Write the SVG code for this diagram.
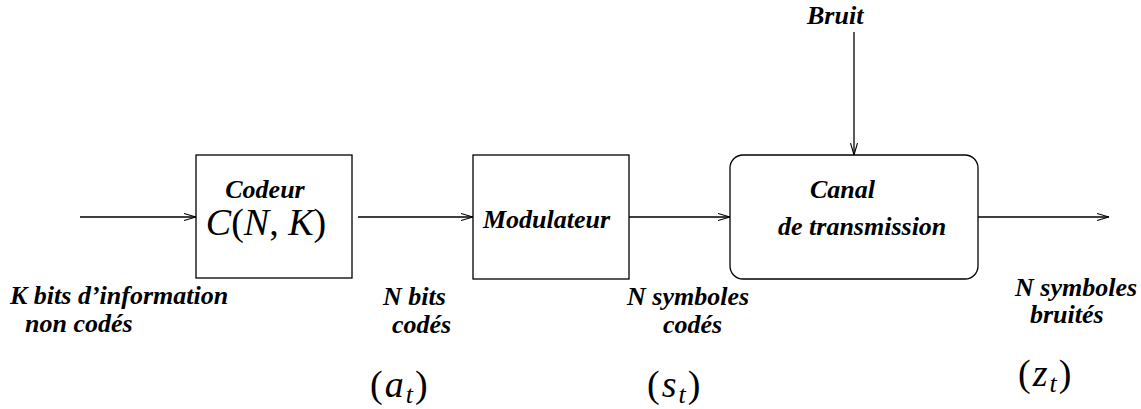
<svg xmlns="http://www.w3.org/2000/svg" width="1141" height="409" viewBox="0 0 1141 409">
  <style>
    .box { fill: none; stroke: #000; stroke-width: 1.3; }
    .wire { fill: none; stroke: #000; stroke-width: 1.3; marker-end: url(#open); }
    .lbl { font-family: "Liberation Serif", "Times New Roman", serif; font-style: italic; font-weight: bold; font-size: 26px; fill: #000; }
    .math { font-family: "Liberation Serif", "Times New Roman", serif; font-size: 38px; fill: #000; }
    .math .v { font-style: italic; }
    .math .sub { font-style: italic; font-size: 26px; }
    .seq { letter-spacing: 2px; }
  </style>
  <defs>
    <marker id="open" viewBox="0 0 12 8" refX="12" refY="4" markerWidth="12" markerHeight="8" markerUnits="userSpaceOnUse" orient="auto">
      <path d="M0,0.5 L12,4 L0,7.5" fill="none" stroke="#000" stroke-width="1.1"/>
    </marker>
  </defs>

  <rect width="1141" height="409" fill="#fff"/>

  <!-- connectors -->
  <g id="connectors">
    <line class="wire" x1="80" y1="217" x2="196" y2="217"/>
    <line class="wire" x1="358" y1="217" x2="473" y2="217"/>
    <line class="wire" x1="629" y1="217" x2="730" y2="217"/>
    <line class="wire" x1="978" y1="217" x2="1109" y2="217"/>
    <line class="wire" x1="854" y1="32" x2="854" y2="155"/>
  </g>

  <!-- coder block -->
  <g id="codeur">
    <rect class="box" x="196" y="155" width="156" height="123"/>
    <text class="lbl" x="265" y="198" text-anchor="middle">Codeur</text>
    <text class="math" x="266" y="235" text-anchor="middle" font-size="31"><tspan class="v">C</tspan>(<tspan class="v">N</tspan>, <tspan class="v">K</tspan>)</text>
  </g>

  <!-- modulator block -->
  <g id="modulateur">
    <rect class="box" x="473" y="155" width="156" height="124"/>
    <text class="lbl" x="483" y="228">Modulateur</text>
  </g>

  <!-- channel block -->
  <g id="canal">
    <rect class="box" x="730" y="155" width="248" height="124" rx="13" ry="13"/>
    <text class="lbl" x="810" y="198">Canal</text>
    <text class="lbl" x="778" y="235">de transmission</text>
  </g>

  <!-- noise source -->
  <g id="bruit">
    <text class="lbl" x="807" y="24">Bruit</text>
  </g>

  <!-- signal labels -->
  <g id="entree">
    <text class="lbl" x="10" y="304">K bits d’information</text>
    <text class="lbl" x="25" y="332">non codés</text>
  </g>
  <g id="bits-codes">
    <text class="lbl" x="383" y="305">N bits</text>
    <text class="lbl" x="392" y="333">codés</text>
    <text class="math seq" x="370" y="397">(<tspan class="v">a</tspan><tspan class="sub" dy="6">t</tspan><tspan dy="-6">)</tspan></text>
  </g>
  <g id="symboles-codes">
    <text class="lbl" x="627" y="305">N symboles</text>
    <text class="lbl" x="663" y="333">codés</text>
    <text class="math seq" x="647" y="397">(<tspan class="v">s</tspan><tspan class="sub" dy="6">t</tspan><tspan dy="-6">)</tspan></text>
  </g>
  <g id="symboles-bruites">
    <text class="lbl" x="1015" y="296">N symboles</text>
    <text class="lbl" x="1030" y="323">bruités</text>
    <text class="math seq" x="1018" y="386">(<tspan class="v">z</tspan><tspan class="sub" dy="6">t</tspan><tspan dy="-6">)</tspan></text>
  </g>
</svg>
